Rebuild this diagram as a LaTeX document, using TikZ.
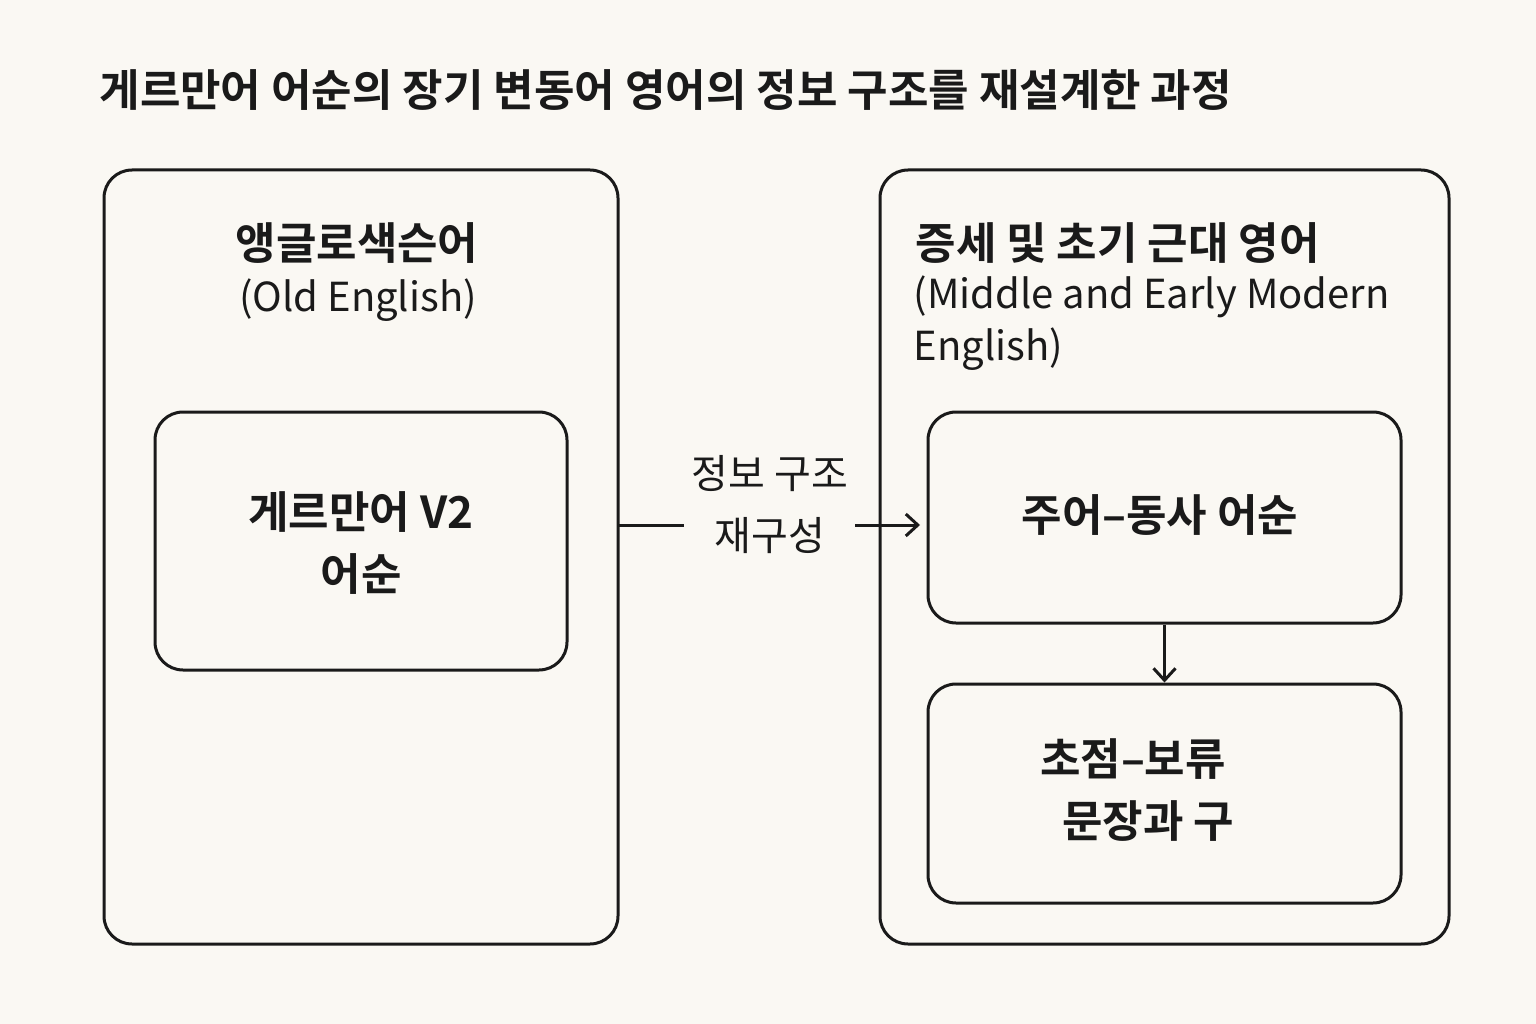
\documentclass[tikz,border=0pt]{standalone}
\usepackage{fontspec}
\setmainfont{Noto Sans CJK KR}
\newfontfamily\kb{Noto Sans CJK KR Bold}
\usetikzlibrary{arrows.meta}
\definecolor{bg}{HTML}{FAF8F3}
\definecolor{ink}{HTML}{1A1A1A}
\tikzset{box/.style={draw=ink,line width=3pt,rounded corners=28pt},
conn/.style={draw=ink,line width=3pt,-{Straight Barb[length=12pt,width=22pt,line width=3pt]}},
bt/.style={font=\kb\fontsize{44}{62}\selectfont,text=ink,align=center},
rt/.style={font=\fontsize{40}{52}\selectfont,text=ink,align=left}}
\begin{document}
\begin{tikzpicture}[x=1pt,y=-1pt]
\useasboundingbox[fill=bg] (0,0) rectangle (1536,1024);
\node[anchor=west,font=\kb\fontsize{44}{52}\selectfont,text=ink] (title) at (96,90) {게르만어 어순의 장기 변동어 영어의 정보 구조를 재설계한 과정};
\draw[box] (104,170) rectangle (618,944);
\coordinate (lr) at (618,525);
\node[bt] (lh) at (357,243) {앵글로색슨어};
\node[rt] (ls) at (358,300) {(Old English)};
\draw[box] (155,412) rectangle (567,670);
\node[bt] (v2) at (361,543) {게르만어 V2\\어순};
\draw[box] (880,170) rectangle (1449,944);
\node[bt,anchor=west] (rh) at (912,243) {증세 및 초기 근대 영어};
\node[rt,anchor=north west] (rs) at (910,272) {(Middle and Early Modern\\English)};
\node[box,minimum width=473pt,minimum height=211pt] (sv) at (1164.5,517.5) {};
\node[bt] at (1160,515) {주어–동사 어순};
\node[box,minimum width=473pt,minimum height=219pt] (fh) at (1164.5,793.5) {};
\node[bt] at (1133,790) {초점–보류\\\hspace*{30pt}문장과 구};
\node[font=\fontsize{40}{62}\selectfont,text=ink,align=center] (lab) at (770,505) {정보 구조\\재구성};
\coordinate (ae) at (920,525);
\draw[ink,line width=3pt] (lr) -- (684,525);
\draw[conn] (855,525) -- (ae);
\draw[conn] (sv.south) -- (fh.north);
\end{tikzpicture}
\end{document}
